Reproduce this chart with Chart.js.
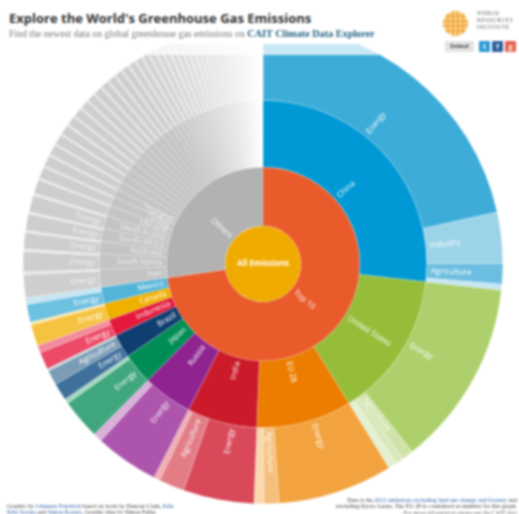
<!DOCTYPE html>
<html>
<head>
<meta charset="utf-8">
<title>Explore the World's Greenhouse Gas Emissions</title>
<script src="https://cdn.jsdelivr.net/npm/chart.js@4"></script>
<style>
html, body { margin: 0; padding: 0; background: #fff; }
#page { position: relative; width: 519px; height: 514px; overflow: hidden; filter: blur(0.8px); }
#burst { position: absolute; left: 0; top: 0; }
#header { position: absolute; left: 0; top: 0; width: 519px; height: 44px; background: #fff; }
#band { position: absolute; left: 0; top: 44px; width: 519px; height: 11px; background: rgba(255,255,255,0.72); }
#title { position: absolute; left: 9px; top: 9px; font: bold 13px "Open Sans", sans-serif; color: #333; white-space: nowrap; }
#sub { position: absolute; left: 9px; top: 28px; font: 9.8px "Liberation Serif", serif; color: #777; white-space: nowrap; }
#sub b { color: #1f5f80; font-size: 10.2px; }
#logo { position: absolute; left: 443px; top: 11px; width: 25px; height: 25px; border-radius: 50%;
  background: radial-gradient(circle, #fbe3b0 1.1px, #f3ad45 1.6px) 0 0 / 5px 5px; }
#wri { position: absolute; left: 477px; top: 10px; font: 5.2px/7.2px "Liberation Serif", serif; letter-spacing: 0.7px; color: #555; white-space: nowrap; }
#embed { position: absolute; left: 445px; top: 41px; width: 29px; height: 11px; background: #e4e4e4; font: bold 5.5px/11px "Open Sans", sans-serif; color: #444; text-align: center; }
.sq { position: absolute; top: 41px; width: 11px; height: 11px; color: #fff; font: bold 7px/11px "Open Sans", sans-serif; text-align: center; border-radius: 1px; }
.foot { position: absolute; font: 6px/6.4px "Liberation Serif", serif; color: #444; white-space: nowrap; }
.foot span { color: #2a5fa8; }
</style>
</head>
<body>
<div id="page">
  <canvas id="burst" width="519" height="514"></canvas>
  <div id="header"></div>
  <div id="band"></div>
  <div id="title">Explore the World's Greenhouse Gas Emissions</div>
  <div id="sub">Find the newest data on global greenhouse gas emissions on <b>CAIT Climate Data Explorer</b></div>
  <div id="logo"></div>
  <div id="wri">WORLD<br>RESOURCES<br>INSTITUTE</div>
  <div id="embed">Embed</div>
  <div class="sq" style="left:479px;background:#2b9ad6">t</div>
  <div class="sq" style="left:492px;background:#2d5f9e">f</div>
  <div class="sq" style="left:505px;background:#e5604d">g</div>
  <div class="foot" style="left:7px;top:503px">Graphic by <span>Johannes Friedrich</span> based on work by Duncan Clark, <span>Kiln</span><br><span>Kiln Stories</span> and <span>Simon Rogers</span>, Graphic idea by Simon Fuller</div>
  <div class="foot" style="right:2px;top:497px;text-align:right">Data is the <span>2012 emissions excluding land use change and forestry</span> and<br>excluding Kyoto Gases. The EU 28 is considered as member for this graph.<br>For more information please see the CAIT data</div>
</div>
<script>
// Share of world emissions (%)
const countries = ['China', 'United States', 'EU 28', 'India', 'Russia', 'Japan', 'Brazil', 'Indonesia', 'Canada', 'Mexico'];
const chinaSectors = [21.56, 3.44, 1.39, 0.39];
const usSectors = [12.58, 0.78, 0.56, 0.56];
const euSectors = [7.75, 1.0, 0.67];
const indiaSectors = [4.78, 1.72, 0.42];
const russiaSectors = [4.31, 0.61];
const japanSectors = [2.72, 0.33];
const brazilSectors = [1.17, 1.0, 0.17];
const indonesiaSectors = [1.17, 0.5];
const canadaSectors = [1.44, 0.19];
const mexicoSectors = [1.19, 0.44];

const chinaNames = ['Energy', 'Industry', 'Agriculture', ''];
const usNames = ['Energy', 'Agriculture', '', ''];
const euNames = ['Energy', 'Agriculture', ''];
const indiaNames = ['Energy', 'Agriculture', ''];
const russiaNames = ['Energy', ''];
const japanNames = ['Energy', ''];
const brazilNames = ['Energy', 'Agriculture', ''];
const indonesiaNames = ['Energy', ''];
const canadaNames = ['Energy', ''];
const mexicoNames = ['Energy', ''];

// the grey "Others" countries, energy part and everything else
const otherCountries = ['Iran', 'South Korea', 'Australia', 'South Africa', 'Saudi Arabia', 'Ukraine', 'Turkey', 'Thailand'];
const othersEnergy = [1.57, 1.35, 1.1, 1.1, 1.13, 0.94, 0.79, 0.73, 0.71, 0.68, 0.65, 0.63, 0.6, 0.58, 0.55, 0.55, 0.52, 0.5, 0.5, 0.48,
  0.45, 0.43, 0.43, 0.4, 0.37, 0.37, 0.36, 0.36, 0.33, 0.33, 0.3, 0.3, 0.28, 0.28, 0.26, 0.26, 0.23, 0.23, 0.21, 0.21,
  0.18, 0.18, 0.15, 0.15, 0.14, 0.14, 0.11, 0.11, 0.11, 0.11, 0.06, 0.06];
const othersRest = [0.18, 0.18, 0.15, 0.15, 0.15, 0.12, 0.1, 0.1, 0.1, 0.1, 0.1, 0.09, 0.09, 0.09, 0.09, 0.09, 0.09, 0.08, 0.08, 0.08,
  0.08, 0.07, 0.07, 0.07, 0.07, 0.07, 0.06, 0.06, 0.06, 0.06, 0.06, 0.06, 0.05, 0.05, 0.05, 0.05, 0.05, 0.05, 0.04, 0.04,
  0.04, 0.04, 0.04, 0.04, 0.03, 0.03, 0.03, 0.03, 0.03, 0.03, 0.02, 0.02];

const countryColors = ['#0099d5', '#95bd3a', '#ec7d00', '#cb1a29', '#8f2390', '#008d55', '#0f3e70', '#e4183c', '#f0b000', '#53b4da'];
const chinaColors = ['#3dacd9', '#9dd3e9', '#6cbee0', '#c6e6f2'];
const usColors = ['#add06c', '#cfe3a8', '#d9e9bd', '#e4f0d1'];
const euColors = ['#f2a33f', '#f6bf7c', '#fad9b0'];
const indiaColors = ['#d9495a', '#e27d86', '#efb0b5'];
const russiaColors = ['#ad55ad', '#d8b0d8'];
const japanColors = ['#3fa67e', '#a5d8c2'];
const brazilColors = ['#3f6f9b', '#7a9cb5', '#c8d6e0'];
const indonesiaColors = ['#ec4a66', '#f38a9c'];
const canadaColors = ['#f5c33f', '#fbe8b0'];
const mexicoColors = ['#6cc0e0', '#c5e6f2'];

const countrySectors = [chinaSectors, usSectors, euSectors, indiaSectors, russiaSectors, japanSectors, brazilSectors, indonesiaSectors, canadaSectors, mexicoSectors];
const countryNames = [chinaNames, usNames, euNames, indiaNames, russiaNames, japanNames, brazilNames, indonesiaNames, canadaNames, mexicoNames];
const sectorColors = [chinaColors, usColors, euColors, indiaColors, russiaColors, japanColors, brazilColors, indonesiaColors, canadaColors, mexicoColors];

const sum = arr => arr.reduce((a, b) => a + b, 0);

// grey fades out towards the top of the circle
function fadeGrey(base, position) {
    const t = Math.min(1, Math.max(0, (position - 0.36) / 0.58));
    const v = Math.round(base + (255 - base) * t);
    return `rgb(${v},${v},${v})`;
}

// build the rings from the outer sectors up
const outerValues = [], outerLabels = [], outerColors = [];
const midValues = [], midLabels = [], midColors = [];

countrySectors.forEach((sectors, i) => {
    sectors.forEach((v, j) => {
        outerValues.push(v);
        outerLabels.push(countryNames[i][j]);
        outerColors.push(sectorColors[i][j]);
    });
    midValues.push(sum(sectors));
    midLabels.push(countries[i]);
    midColors.push(countryColors[i]);
});
const topTotal = sum(midValues);

othersEnergy.forEach((v, i) => {
    const pos = i / othersEnergy.length;
    outerValues.push(v, othersRest[i]);
    outerLabels.push(i < 5 ? 'Energy' : '', '');
    outerColors.push(fadeGrey(206, pos), fadeGrey(232, pos));
    midValues.push(v + othersRest[i]);
    midLabels.push(otherCountries[i] || '');
    midColors.push(fadeGrey(196, pos));
});
const othersTotal = sum(othersEnergy) + sum(othersRest);

const groupValues = [topTotal, othersTotal];
const groupLabels = ['Top 10', 'Others'];
const groupColors = ['#e95b2b', '#b2b2b2'];
const coreValues = [100];
const coreLabels = ['All Emissions'];
const coreColors = ['#f0ab00'];

// radial text starting just outside the inner edge of each arc, upright on both sides
const arcLabels = {
    id: 'arcLabels',
    afterDatasetsDraw(chart) {
        const ctx = chart.ctx;
        ctx.save();
        ctx.textBaseline = 'middle';
        chart.data.datasets.forEach((ds, d) => {
            const meta = chart.getDatasetMeta(d);
            meta.data.forEach((arc, i) => {
                const text = ds.arcText[i];
                if (!text) return;
                const p = arc.getProps(['startAngle', 'endAngle', 'innerRadius', 'outerRadius', 'x', 'y'], true);
                if (d === 3) {
                    ctx.font = 'bold 8px "Open Sans", sans-serif';
                    ctx.fillStyle = '#fff';
                    ctx.textAlign = 'center';
                    ctx.fillText(text, p.x, p.y);
                    return;
                }
                const a = (p.startAngle + p.endAngle) / 2;
                ctx.font = '8px "Open Sans", sans-serif';
                ctx.fillStyle = ds.arcGrey[i] ? 'rgba(255,255,255,0.75)' : '#fff';
                const r = p.innerRadius + 4;
                ctx.save();
                ctx.translate(p.x + Math.cos(a) * r, p.y + Math.sin(a) * r);
                if (Math.cos(a) >= 0) {
                    ctx.rotate(a);
                    ctx.textAlign = 'left';
                } else {
                    ctx.rotate(a + Math.PI);
                    ctx.textAlign = 'right';
                }
                ctx.fillText(text, 0, 0);
                ctx.restore();
            });
        });
        ctx.restore();
    }
};

const topCount = outerValues.length - othersEnergy.length * 2;

new Chart(document.getElementById('burst').getContext('2d'), {
    type: 'doughnut',
    plugins: [arcLabels],
    data: {
        datasets: [
            {
                data: outerValues, backgroundColor: outerColors, weight: 76, arcText: outerLabels,
                arcGrey: outerValues.map((v, i) => i >= topCount), borderWidth: 0.4, borderColor: 'rgba(255,255,255,0.6)'
            },
            {
                data: midValues, backgroundColor: midColors, weight: 67, arcText: midLabels,
                arcGrey: midValues.map((v, i) => i >= countries.length), borderWidth: 0.5, borderColor: 'rgba(255,255,255,0.45)'
            },
            {
                data: groupValues, backgroundColor: groupColors, weight: 59, arcText: groupLabels,
                arcGrey: [false, false], borderWidth: 0.5, borderColor: 'rgba(255,255,255,0.4)'
            },
            {
                data: coreValues, backgroundColor: coreColors, weight: 38, arcText: coreLabels,
                arcGrey: [false], borderWidth: 0
            }
        ]
    },
    options: {
        responsive: false,
        animation: false,
        cutout: 0,
        layout: { padding: { left: 23, right: 16, top: 24, bottom: 10 } },
        plugins: { legend: { display: false }, tooltip: { enabled: false } }
    }
});
</script>
</body>
</html>
